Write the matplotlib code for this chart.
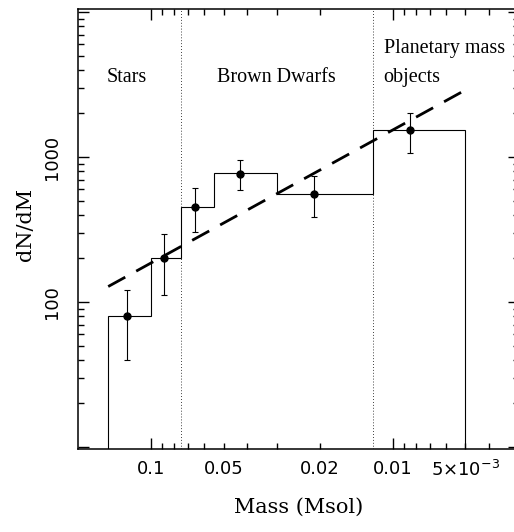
import numpy as np
import matplotlib
matplotlib.use('Agg')
import matplotlib.pyplot as plt
from matplotlib.ticker import FixedLocator, FixedFormatter, NullFormatter

# histogram (mass bin edges in Msol, dN/dM per bin)
bin_edges = [0.005, 0.012, 0.03, 0.055, 0.075, 0.1, 0.15]
bin_values = [1530, 560, 775, 450, 200, 80]

# data points with error bars
pt_mass = [0.126, 0.088, 0.0657, 0.0428, 0.0211, 0.0085]
pt_dndm = [80, 200, 450, 770, 560, 1530]
pt_err_lo = [40, 88, 146, 180, 175, 465]
pt_err_hi = [41, 94, 160, 183, 180, 480]

# power-law fit (dashed)
fit_mass = [0.15, 0.005]
fit_dndm = [128, 2900]

# region boundaries and labels
boundaries = [0.075, 0.012]
region_labels = ['Stars', 'Brown Dwarfs']
region_x = [0.126, 0.0303]

fig = plt.figure(figsize=(5.14, 5.32), dpi=100)
ax = fig.add_axes([78 / 514, 83 / 532, 441 / 514, 440 / 532])

ax.set_xscale('log')
ax.set_yscale('log')
ax.set_xlim(0.2, 0.003)
ax.set_ylim(9.7, 10500)

ax.stairs(bin_values, bin_edges, baseline=1, color='black', lw=0.8)
ax.errorbar(pt_mass, pt_dndm, yerr=[pt_err_lo, pt_err_hi], fmt='o', color='black',
            ms=5, elinewidth=0.8, capsize=2.5, capthick=0.8)
ax.plot(fit_mass, fit_dndm, color='black', lw=2.0, dashes=(7, 4.5))

for b in boundaries:
    ax.axvline(b, color='black', lw=0.6, ls=(0, (1, 2.5)))

trans = ax.get_xaxis_transform()
for lab, xm in zip(region_labels, region_x):
    ax.text(xm, 0.845, lab, transform=trans, ha='center', va='center',
            family='Liberation Serif', fontsize=14.5)
ax.text(0.0109, 0.91, 'Planetary mass', transform=trans, ha='left', va='center',
        family='Liberation Serif', fontsize=14.5)
ax.text(0.0109, 0.845, 'objects', transform=trans, ha='left', va='center',
        family='Liberation Serif', fontsize=14.5)

# x ticks
x_major = [0.1, 0.01]
x_minor = [0.09, 0.08, 0.07, 0.06, 0.05, 0.04, 0.03, 0.02,
           0.009, 0.008, 0.007, 0.006, 0.005, 0.004]
x_minor_labels = ['' for _ in x_minor]
x_minor_labels[x_minor.index(0.05)] = '0.05'
x_minor_labels[x_minor.index(0.02)] = '0.02'
x_minor_labels[x_minor.index(0.005)] = r'$5{\times}10^{-3}$'
ax.xaxis.set_major_locator(FixedLocator(x_major))
ax.xaxis.set_major_formatter(FixedFormatter(['0.1', '0.01']))
ax.xaxis.set_minor_locator(FixedLocator(x_minor))
ax.xaxis.set_minor_formatter(FixedFormatter(x_minor_labels))

# y ticks
y_major = [10, 100, 1000, 10000]
y_minor = [m * d for d in [10, 100, 1000] for m in range(2, 10)]
ax.yaxis.set_major_locator(FixedLocator(y_major))
ax.yaxis.set_major_formatter(FixedFormatter(['', '100', '1000', '']))
ax.yaxis.set_minor_locator(FixedLocator(y_minor))
ax.yaxis.set_minor_formatter(NullFormatter())

ax.tick_params(which='both', direction='in', top=True, right=True, width=1.0,
               labelsize=13)
ax.tick_params(which='major', length=8)
ax.tick_params(which='minor', length=4)
ax.tick_params(axis='x', which='both', pad=8)
ax.tick_params(axis='y', which='both', pad=12, labelrotation=90)
for lab in ax.get_yticklabels():
    lab.set_va('center')
for sp in ax.spines.values():
    sp.set_linewidth(1.1)

fig.text(299 / 514, 1 - 507 / 532, 'Mass (Msol)', ha='center', va='center',
         family='DejaVu Serif', fontsize=15)
fig.text(25 / 514, 1 - 225 / 532, 'dN/dM', ha='center', va='center', rotation=90,
         family='DejaVu Serif', fontsize=15)

fig.savefig('out.png', dpi=100)
